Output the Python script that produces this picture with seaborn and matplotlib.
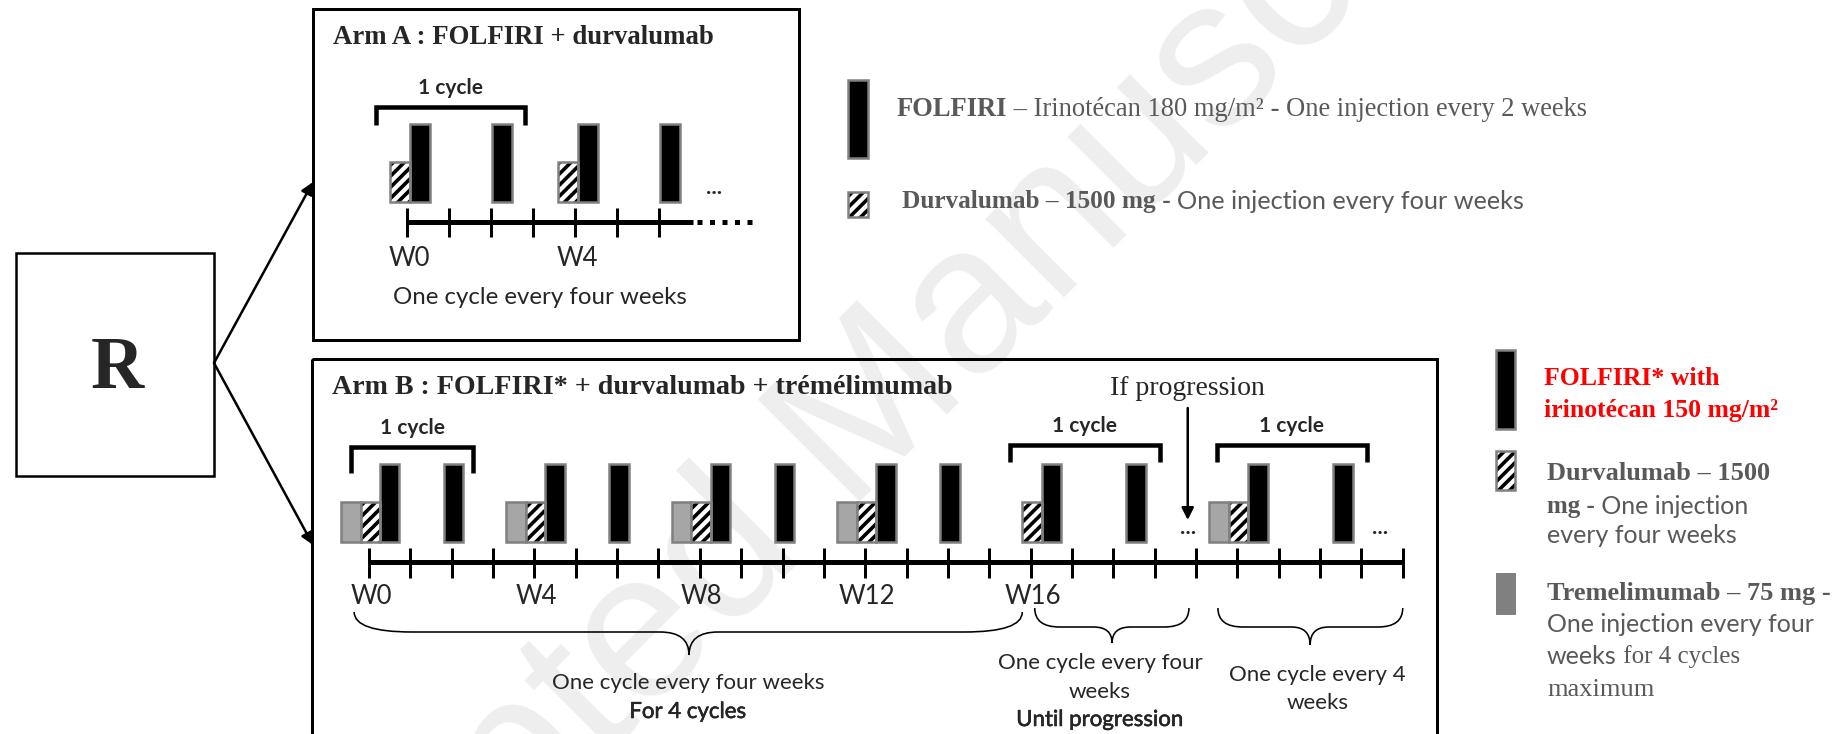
import numpy as np
import matplotlib
matplotlib.use("Agg")
import matplotlib.pyplot as plt
import matplotlib.patheffects as pe
import seaborn as sns
from matplotlib.patches import Rectangle, PathPatch
from matplotlib.path import Path

# ---------------- data (weeks) ----------------
arm_a_ticks = list(range(0, 7))
arm_a_labels = ["W0", "W4"]
arm_a_label_weeks = [0, 4]
arm_a_cycle_starts = [0, 4]          # durvalumab + FOLFIRI
arm_a_folfiri_mid = [2, 6]           # FOLFIRI alone

arm_b_ticks = list(range(0, 26))
arm_b_labels = ["W0", "W4", "W8", "W12", "W16"]
arm_b_label_weeks = [0, 4, 8, 12, 16]
arm_b_cycle_starts = [0, 4, 8, 12, 16, 21]     # durvalumab + FOLFIRI
arm_b_treme_weeks = [0, 4, 8, 12, 21]          # tremelimumab
arm_b_folfiri_mid = [2, 6, 10, 14, 18.5, 23.5]  # FOLFIRI alone

# ---------------- setup ----------------
sns.set_theme(style="white")
plt.rcParams["font.family"] = ["Liberation Serif", "DejaVu Sans"]
plt.rcParams["hatch.linewidth"] = 2.6

W, H, DPI = 1847, 734, 100
fig = plt.figure(figsize=(W / DPI, H / DPI), dpi=DPI)
fig.patch.set_facecolor("white")

def pt(p):
    return p * 72.0 / DPI

SERIF = "Liberation Serif"
SANS = "Lato"
GREY = "#595959"
EDGE = "#808080"
TREM = "#a6a6a6"
HATCH = "///"
MED = [pe.withStroke(linewidth=0.35, foreground="black")]

base = fig.add_axes([0, 0, 1, 1])
base.set_xlim(0, W)
base.set_ylim(H, 0)
base.axis("off")

# watermark
base.text(843, 442, "Accepted Manuscript", rotation=45, fontsize=151,
          color="#eeeeee", family="Liberation Sans", ha="center", va="center",
          rotation_mode="anchor", zorder=0)

# R box and arrows
base.add_patch(Rectangle((16, 253), 198, 223, fill=False, lw=pt(2.5), ec="black", zorder=3))
base.text(117, 370, "R", family=SERIF, fontweight="bold", fontsize=53,
          ha="center", va="center", zorder=3)
for yend in (182, 545):
    base.annotate("", xy=(313, yend), xytext=(214, 363),
                  arrowprops=dict(arrowstyle="-|>", lw=pt(2.5), color="black",
                                  mutation_scale=18, shrinkA=0, shrinkB=0), zorder=3)

# Arm boxes
base.add_patch(Rectangle((313, 9), 486, 331, fill=False, lw=pt(3), ec="black", zorder=3))
base.add_patch(Rectangle((312, 359), 1125, 400, fill=False, lw=pt(3), ec="black", zorder=3))
base.text(333, 37, "Arm A : FOLFIRI + durvalumab", family=SERIF, fontweight="bold",
          fontsize=19.3, ha="left", va="center", zorder=3)
base.text(332, 387, "Arm B : FOLFIRI* + durvalumab + trémélimumab", family=SERIF,
          fontweight="bold", fontsize=20.2, ha="left", va="center", zorder=3)


def timeline_axes(box, week0, ppw, y0):
    l, t, r, b = box
    ax = fig.add_axes([l / W, 1 - b / H, (r - l) / W, (b - t) / H])
    ax.set_xlim((l - week0) / ppw, (r - week0) / ppw)
    ax.set_ylim(y0 - b, y0 - t)
    ax.axis("off")
    ax.patch.set_visible(False)
    return ax


BW = 0.47
BOT = 20
FH = 78
DH = 40


def folfiri(ax, x):
    ax.bar(x, FH, BW, bottom=BOT, color="black", edgecolor=EDGE, linewidth=pt(2.5), zorder=3)


def durva(ax, x, h=DH):
    ax.bar(x, h, BW, bottom=BOT, color="white", edgecolor="black", hatch=HATCH, linewidth=0, zorder=3)
    ax.bar(x, h, BW, bottom=BOT, fill=False, edgecolor=EDGE, linewidth=pt(2.5), zorder=4)


def treme(ax, x):
    ax.bar(x, DH, BW, bottom=BOT, color=TREM, edgecolor=EDGE, linewidth=pt(2.5), zorder=3)


def bracket(ax, x0, x1, ytop, ydrop, label):
    ax.plot([x0, x0, x1, x1], [ydrop, ytop, ytop, ydrop], color="black", lw=pt(4.5),
            solid_joinstyle="miter", solid_capstyle="butt")
    ax.text((x0 + x1) / 2, ytop + 19, label, family=SANS, fontweight="bold", fontsize=15,
            ha="center", va="center")


def brace(ax, x0, x1, xtip, ytop, ymid, ytip, hook_end, hook_tip):
    verts = [(x0, ytop), (x0, ymid), (x0 + hook_end, ymid),
             (xtip - hook_tip, ymid), (xtip, ymid), (xtip, ytip),
             (xtip, ymid), (xtip + hook_tip, ymid),
             (x1 - hook_end, ymid), (x1, ymid), (x1, ytop)]
    codes = [Path.MOVETO, Path.CURVE3, Path.CURVE3, Path.LINETO, Path.CURVE3, Path.CURVE3,
             Path.CURVE3, Path.CURVE3, Path.LINETO, Path.CURVE3, Path.CURVE3]
    ax.add_patch(PathPatch(Path(verts, codes), fill=False, lw=pt(1.6), ec="black"))


def dots(ax, x, y):
    ax.text(x, y, "...", family=SANS, fontsize=16, ha="center", va="center", fontweight="bold")


# ---------------- Arm A timeline ----------------
axA = timeline_axes((318, 60, 795, 320), 407, 42.0, 222)
axA.plot([0, 6.81], [0, 0], color="black", lw=pt(5), solid_capstyle="butt")
axA.plot([6.9, 8.25], [0, 0], color="black", lw=pt(5), linestyle=(0, (1, 1.5)),
         dash_capstyle="butt")
axA.vlines(arm_a_ticks, -15, 14, color="black", lw=pt(3))
for w in arm_a_cycle_starts:
    durva(axA, w - 0.16)
    folfiri(axA, w - 0.16 + BW)
for w in arm_a_folfiri_mid:
    folfiri(axA, w + 0.26)
for lab, w in zip(arm_a_labels, arm_a_label_weeks):
    axA.text(w + 0.05, -36, lab, family=SANS, fontsize=18.5, ha="center", va="center")
bracket(axA, -0.74, 2.81, 115, 97, "1 cycle")
dots(axA, 7.3, 34)
axA.text(3.17, -76, "One cycle every four weeks", family=SANS, fontsize=17.3,
         ha="center", va="center")

# ---------------- Arm B timeline ----------------
axB = timeline_axes((318, 365, 1434, 733), 369, 41.35, 562)
axB.plot([0, 25], [0, 0], color="black", lw=pt(5), solid_capstyle="butt")
axB.vlines(arm_b_ticks, -16, 14, color="black", lw=pt(3))
for w in arm_b_treme_weeks:
    treme(axB, w + 0.03 - BW)
for w in arm_b_cycle_starts:
    durva(axB, w + 0.03)
    folfiri(axB, w + 0.03 + BW)
for w in arm_b_folfiri_mid:
    folfiri(axB, w + 0.05)
for lab, w in zip(arm_b_labels, arm_b_label_weeks):
    axB.text(w + 0.05, -34, lab, family=SANS, fontsize=18.5, ha="center", va="center")
bracket(axB, -0.44, 2.52, 115, 89, "1 cycle")
bracket(axB, 15.5, 19.13, 117, 100, "1 cycle")
bracket(axB, 20.5, 24.14, 117, 100, "1 cycle")

axB.text(19.8, 174, "If progression", family=SERIF, fontsize=20, ha="center", va="center")
axB.annotate("", xy=(19.8, 42), xytext=(19.8, 154),
             arrowprops=dict(arrowstyle="-|>", lw=pt(2.5), color="black",
                             mutation_scale=18, shrinkA=0, shrinkB=0))
dots(axB, 19.8, 34)
dots(axB, 24.45, 34)

brace(axB, -0.36, 15.8, 7.74, -50, -70, -93, 1.4, 0.7)
brace(axB, 16.1, 19.83, 17.97, -46, -65, -81, 0.6, 0.45)
brace(axB, 20.53, 25.0, 22.76, -46, -65, -83, 0.6, 0.45)

axB.text(7.71, -121, "One cycle every four weeks", family=SANS, fontsize=16, ha="center", va="center")
axB.text(7.71, -150, "For 4 cycles", family=SANS, fontsize=16, ha="center", va="center",
         path_effects=MED)
axB.text(17.68, -101, "One cycle every four", family=SANS, fontsize=16, ha="center", va="center")
axB.text(17.68, -130, "weeks", family=SANS, fontsize=16, ha="center", va="center")
axB.text(17.68, -158, "Until progression", family=SANS, fontsize=16, ha="center", va="center",
         path_effects=MED)
axB.text(22.93, -113, "One cycle every 4", family=SANS, fontsize=16, ha="center", va="center")
axB.text(22.93, -141, "weeks", family=SANS, fontsize=16, ha="center", va="center")


# ---------------- legends ----------------
def legend_rect(x0, y0, x1, y1, kind):
    if kind == "folfiri":
        base.add_patch(Rectangle((x0, y0), x1 - x0, y1 - y0, fc="black", ec=EDGE, lw=pt(2.5), zorder=3))
    elif kind == "durva":
        base.add_patch(Rectangle((x0, y0), x1 - x0, y1 - y0, fc="white", ec="black", hatch=HATCH,
                                 lw=0, zorder=3))
        base.add_patch(Rectangle((x0, y0), x1 - x0, y1 - y0, fill=False, ec=EDGE, lw=pt(2.5), zorder=4))
    else:
        base.add_patch(Rectangle((x0, y0), x1 - x0, y1 - y0, fc=EDGE, ec=EDGE, lw=pt(1), zorder=3))


def rich_line(x, y, pieces, color=GREY, size=19):
    prev = None
    for txt, fam, wt in pieces:
        if prev is None:
            prev = base.text(x, y, txt, family=fam, fontweight=wt, fontsize=size, color=color,
                             ha="left", va="baseline", zorder=3)
        else:
            prev = base.annotate(txt, xy=(1, 0), xycoords=prev, family=fam, fontweight=wt,
                                 fontsize=size, color=color, ha="left", va="bottom", zorder=3)
    return prev


legend_rect(848, 80, 868, 158, "folfiri")
legend_rect(848, 192, 868, 217, "durva")
rich_line(897, 116, [("FOLFIRI", SERIF, "bold"), (" – Irinotécan 180 mg/m²", SERIF, "normal"),
                     (" - ", SERIF, "bold"), ("One injection every 2 weeks", SERIF, "normal")], size=19.1)
rich_line(902, 208, [("Durvalumab – 1500 mg", SERIF, "bold"), (" - ", SERIF, "bold"),
                     ("One injection every four weeks", SANS, "normal")], size=18.2)

legend_rect(1496, 350, 1515, 429, "folfiri")
legend_rect(1496, 451, 1515, 490, "durva")
legend_rect(1496, 573, 1515, 614, "treme")
rich_line(1544, 385, [("FOLFIRI* with", SERIF, "bold")], color="#ff0000", size=18.5)
rich_line(1544, 417, [("irinotécan 150 mg/m²", SERIF, "bold")], color="#ff0000", size=18.5)
rich_line(1547, 480, [("Durvalumab – 1500", SERIF, "bold")])
rich_line(1547, 513, [("mg -", SERIF, "bold"), (" One injection", SANS, "normal")], size=18)
rich_line(1547, 543, [("every four weeks", SANS, "normal")], size=18)
rich_line(1547, 600, [("Tremelimumab – 75 mg -", SERIF, "bold")])
rich_line(1547, 632, [("One injection every four", SANS, "normal")], size=18)
rich_line(1547, 664, [("weeks", SANS, "normal"), (" for 4 cycles", SERIF, "normal")], size=18)
rich_line(1547, 696, [("maximum", SERIF, "normal")])

fig.savefig("out.png", dpi=DPI, facecolor="white")
